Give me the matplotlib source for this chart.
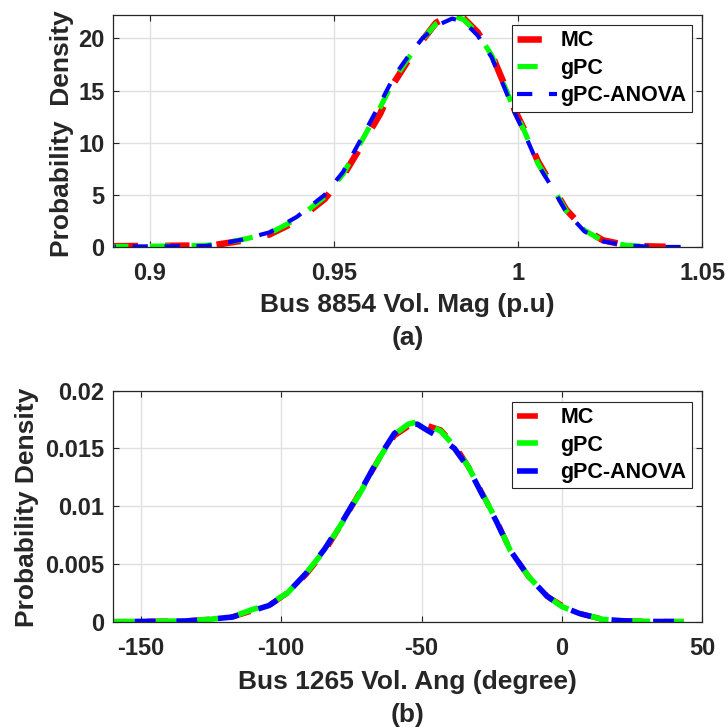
import matplotlib
matplotlib.use("Agg")
import matplotlib.pyplot as plt
from matplotlib.lines import Line2D

# ---------------- data ----------------
# (a) Bus 8854 voltage magnitude PDF
mag_x_mc = [0.8903, 0.905, 0.915, 0.9174, 0.925, 0.9325, 0.940, 0.9475, 0.9525, 0.9576,
            0.9626, 0.9664, 0.970, 0.974, 0.9777, 0.9821, 0.9853, 0.989, 0.9928, 0.9966,
            0.999, 1.0016, 1.0054, 1.0092, 1.013, 1.018, 1.023, 1.0293, 1.0356, 1.040]
mag_pdf_mc = [0.08, 0.12, 0.15, 0.18, 0.6, 1.2, 2.5, 4.6, 6.8, 9.8,
              12.8, 15.8, 17.8, 19.8, 21.5, 22.3, 21.9, 20.6, 18.5, 15.3,
              13.2, 11.3, 8.2, 5.9, 3.6, 1.7, 0.65, 0.18, 0.06, 0.03]
mag_x_gpc = [0.8903, 0.905, 0.915, 0.9174, 0.925, 0.9325, 0.940, 0.9475, 0.9525, 0.9576,
             0.9626, 0.9664, 0.970, 0.974, 0.9777, 0.9821, 0.9853, 0.989, 0.9928, 0.9966,
             0.999, 1.0016, 1.0054, 1.0092, 1.013, 1.018, 1.023, 1.0293, 1.0356, 1.039]
mag_pdf_gpc = [0.05, 0.1, 0.15, 0.25, 0.7, 1.3, 2.7, 4.8, 7.0, 10.2,
               13.4, 16.1, 18.0, 19.9, 21.4, 22.2, 21.8, 20.5, 18.4, 15.2,
               13.1, 11.2, 8.0, 5.8, 3.5, 1.6, 0.6, 0.16, 0.05, 0.02]
mag_x_anova = [0.8905, 0.905, 0.915, 0.9174, 0.925, 0.9325, 0.940, 0.9475, 0.9525, 0.9576,
               0.9626, 0.9664, 0.970, 0.974, 0.9777, 0.9821, 0.9853, 0.989, 0.9928, 0.9966,
               0.999, 1.0016, 1.0054, 1.0092, 1.013, 1.018, 1.023, 1.0293, 1.0356, 1.040, 1.048]
mag_pdf_anova = [0.05, 0.07, 0.1, 0.2, 0.7, 1.4, 2.9, 5.0, 7.2, 10.5,
                 13.8, 16.4, 18.2, 20.0, 21.2, 21.9, 21.6, 20.3, 18.2, 15.0,
                 12.9, 11.0, 7.9, 5.7, 3.4, 1.5, 0.55, 0.15, 0.04, 0.01, 0.0]

# (b) Bus 1265 voltage angle PDF
ang_x = [-159.6, -145, -134, -125.7, -117.5, -110.9, -104.3, -97.7, -91.1, -84.5,
         -77.9, -71.3, -64.7, -59.7, -54.8, -51.5, -48.2, -43.2, -38.3, -33.3,
         -28.4, -23.4, -18.5, -11.9, -5.3, 0, 6.3, 14.5, 22.8, 32, 43.4]
ang_pdf_mc = [0.0, 0.00003, 0.00006, 0.0002, 0.0004, 0.0009, 0.0014, 0.0025, 0.0041, 0.0061,
              0.0087, 0.0115, 0.0143, 0.0161, 0.0169, 0.0172, 0.0170, 0.0166, 0.0153, 0.0134,
              0.0111, 0.0088, 0.0062, 0.0039, 0.0022, 0.0014, 0.0007, 0.0002, 0.00006, 0.00002, 0.0]
ang_pdf_gpc = [0.0, 0.00003, 0.00006, 0.0002, 0.0004, 0.0010, 0.0015, 0.0025, 0.0042, 0.0062,
               0.0087, 0.0114, 0.0143, 0.0162, 0.0171, 0.0173, 0.0171, 0.0165, 0.0152, 0.0134,
               0.0111, 0.0088, 0.0062, 0.0039, 0.0022, 0.0013, 0.0007, 0.0002, 0.00006, 0.00002, 0.0]
ang_pdf_anova = [0.0, 0.00003, 0.00006, 0.0002, 0.0004, 0.0009, 0.0014, 0.0025, 0.0042, 0.0063,
                 0.0088, 0.0115, 0.0144, 0.0163, 0.0171, 0.0171, 0.0166, 0.0159, 0.0150, 0.0133,
                 0.0110, 0.0087, 0.0062, 0.0039, 0.0022, 0.0013, 0.0007, 0.0002, 0.00006, 0.00002, 0.0]

labels = ["MC", "gPC", "gPC-ANOVA"]
colors = ["#ff0000", "#00ff00", "#0000ff"]

mag_ticks = [0.9, 0.95, 1.0, 1.05]
mag_ticklabels = ["0.9", "0.95", "1", "1.05"]
mag_yticks = [0, 5, 10, 15, 20]
ang_ticks = [-150, -100, -50, 0, 50]
ang_yticks = [0, 0.005, 0.01, 0.015, 0.02]
ang_yticklabels = ["0", "0.005", "0.01", "0.015", "0.02"]

# ---------------- style ----------------
plt.rcParams['font.family'] = ['Liberation Sans', 'DejaVu Sans']
plt.rcParams['font.weight'] = 'bold'
plt.rcParams['lines.scale_dashes'] = False
plt.rcParams['axes.unicode_minus'] = False
dark = (0.15, 0.15, 0.15)

fig = plt.figure(figsize=(7.27, 7.27), dpi=100)
ax1 = fig.add_axes([0.155, 0.6602, 0.8112, 0.3192])
ax2 = fig.add_axes([0.155, 0.1449, 0.8112, 0.3177])


def style_axes(ax):
    ax.grid(True, color=(0.88, 0.88, 0.88), linewidth=1.0, zorder=0)
    ax.set_axisbelow(True)
    for s in ax.spines.values():
        s.set_color(dark)
        s.set_linewidth(0.9)
        s.set_zorder(5)
    ax.tick_params(direction='in', length=4.3, width=0.8, colors=dark,
                   top=True, right=True, labelsize=17)
    ax.tick_params(axis='x', pad=11)
    ax.tick_params(axis='y', pad=6)
    for lab in ax.get_xticklabels() + ax.get_yticklabels():
        lab.set_fontweight('bold')


def add_legend(ax, styles, anchor):
    handles = [Line2D([], [], color=c, lw=lw, linestyle=(0, d))
               for c, (lw, d) in zip(colors, styles)]
    leg = ax.legend(handles, labels, loc='upper right', bbox_to_anchor=anchor,
                    borderaxespad=0, handlelength=1.86, handletextpad=0.15,
                    labelspacing=0.3, borderpad=0.25, fancybox=False, framealpha=1,
                    edgecolor=dark, prop={'weight': 'bold', 'size': 15.5})
    leg.get_frame().set_linewidth(0.8)
    return leg


# (a)
top_styles = [(4.7, (17.5, 19.5)), (3.7, (14.5, 15.5)), (3.0, (11, 12))]
top_offsets = [0, 4, 10]
for (xs, ys), c, (lw, d), off in zip(
        [(mag_x_mc, mag_pdf_mc), (mag_x_gpc, mag_pdf_gpc), (mag_x_anova, mag_pdf_anova)],
        colors, top_styles, top_offsets):
    ax1.plot(xs, ys, color=c, lw=lw, linestyle=(off, d))
ax1.set_xlim(0.89, 1.05)
ax1.set_ylim(0, 22.25)
ax1.set_xticks(mag_ticks)
ax1.set_xticklabels(mag_ticklabels)
ax1.set_yticks(mag_yticks)
style_axes(ax1)
ax1.set_xlabel("Bus 8854 Vol. Mag (p.u)", fontsize=19, fontweight='bold', color=dark, labelpad=5.5)
ax1.set_ylabel("Probability  Density", fontsize=19, fontweight='bold', color=dark)
ax1.yaxis.set_label_coords(-0.066, 0.49)
add_legend(ax1, top_styles, (0.982, 0.957))

# (b)
bot_styles = [(4.0, (15, 15)), (4.0, (15, 15)), (4.0, (15, 15))]
bot_offsets = [6, 0, 15]
for ys, c, (lw, d), off in zip([ang_pdf_mc, ang_pdf_gpc, ang_pdf_anova],
                                colors, bot_styles, bot_offsets):
    ax2.plot(ang_x, ys, color=c, lw=lw, linestyle=(off, d))
ax2.set_xlim(-160, 50)
ax2.set_ylim(0, 0.02)
ax2.set_xticks(ang_ticks)
ax2.set_yticks(ang_yticks)
ax2.set_yticklabels(ang_yticklabels)
style_axes(ax2)
ax2.set_xlabel("Bus 1265 Vol. Ang (degree)", fontsize=19, fontweight='bold', color=dark, labelpad=7)
ax2.set_ylabel("Probability Density", fontsize=19, fontweight='bold', color=dark)
ax2.yaxis.set_label_coords(-0.125, 0.495)
add_legend(ax2, bot_styles, (0.982, 0.952))

fig.text(0.5605, 1 - 338 / 727, "(a)", ha='center', va='center', fontsize=19,
         fontweight='bold', color=dark)
fig.text(0.5605, 1 - 715 / 727, "(b)", ha='center', va='center', fontsize=19,
         fontweight='bold', color=dark)

fig.savefig("out.png", dpi=100)
